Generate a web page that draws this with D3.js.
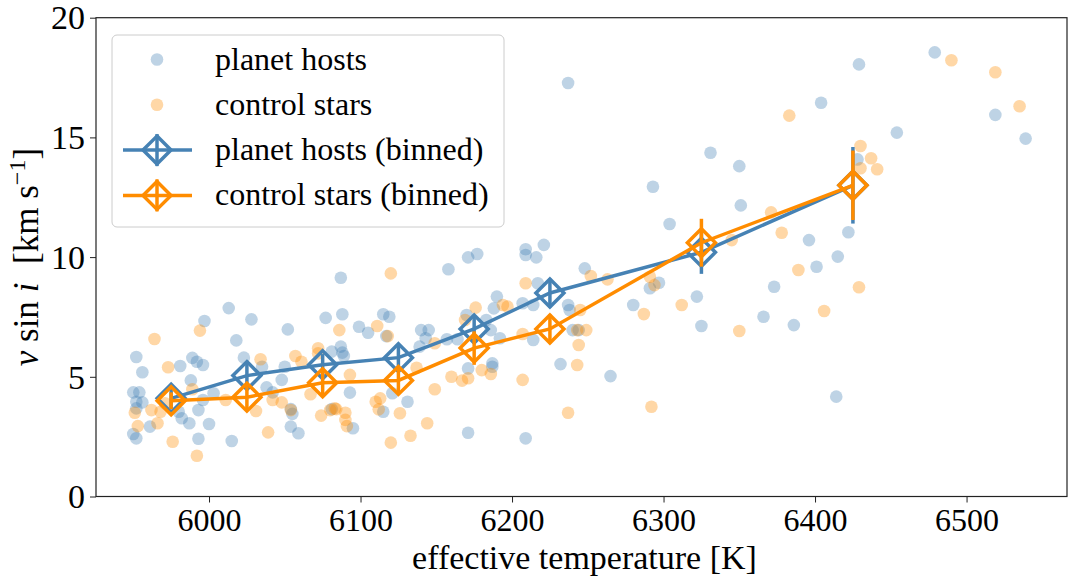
<!DOCTYPE html>
<html>
<head>
<meta charset="utf-8">
<script src="https://cdn.jsdelivr.net/npm/d3@7"></script>
<style>
  body { margin: 0; background: #fff; }
  svg text { font-family: "Liberation Serif", "Times New Roman", serif; fill: #000; }
</style>
</head>
<body>
<div id="chart"></div>
<script>
// individual stars: planet hosts
const hostTeff = [6013, 5997, 6028, 6018, 6052, 6077, 5952, 5956, 5981, 5989, 5992, 5996, 5988, 6023, 6035, 6050, 6048, 6038, 6042, 6081,
  5950, 5954, 5952, 5956, 5952, 6003, 5996, 5993, 5980, 5982, 5987, 6000, 5961, 5950, 5952, 5993, 6015, 6054, 6055, 6054,
  6059, 6081, 6087, 6158, 6171, 6177, 6209, 6209, 6216, 6221, 6088, 6115, 6119, 6099, 6105, 6117, 6140, 6145, 6143, 6087,
  6088, 6089, 6093, 6095, 6121, 6131, 6115, 6139, 6157, 6164, 6170, 6171, 6187, 6187, 6183, 6186, 6190, 6188, 6192, 6171,
  6209, 6207, 6214, 6217, 6214, 6232, 6237, 6238, 6240, 6244, 6248, 6331, 6350, 6293, 6351, 6304, 6428, 6422, 6396, 6401,
  6415, 6373, 6280, 6291, 6297, 6322, 6325, 6366, 6386, 6265, 6414, 6429, 6479, 6519, 6539, 6454, 6404, 6237];
const hostVsini = [7.87, 7.33, 7.40, 6.52, 6.98, 7.46, 5.83, 5.19, 5.45, 5.79, 5.63, 5.49, 4.85, 5.80, 5.42, 5.42, 4.87, 4.56, 4.35, 6.05,
  4.35, 4.35, 3.96, 3.93, 3.68, 4.31, 4.03, 3.61, 3.54, 3.27, 3.06, 3.03, 2.92, 2.61, 2.43, 2.41, 2.32, 3.65, 3.45, 2.92,
  2.64, 3.65, 9.14, 9.49, 9.99, 10.13, 10.33, 10.09, 9.99, 10.51, 7.61, 7.61, 7.51, 7.09, 6.84, 6.70, 6.95, 6.95, 6.61, 6.26,
  6.01, 5.87, 4.34, 2.85, 4.31, 3.96, 3.54, 6.26, 6.57, 6.57, 7.58, 5.35, 5.42, 5.56, 7.37, 6.95, 8.35, 7.86, 6.61, 2.66,
  2.43, 8.07, 8.00, 8.91, 6.54, 5.53, 8.00, 7.79, 6.95, 6.95, 9.53, 14.36, 13.80, 12.94, 12.16, 11.38, 14.08, 11.04, 10.71, 9.60,
  10.02, 8.76, 8.00, 8.70, 8.93, 8.35, 7.12, 7.51, 7.16, 5.03, 4.17, 18.05, 18.55, 15.94, 14.95, 15.20, 16.45, 17.27];

// individual stars: control sample
const ctrlTeff = [5964, 5994, 5973, 6034, 6057, 6061, 6072, 6072, 6086, 5951, 5953, 5962, 5966, 5968, 5989, 6011, 6031, 6042, 6048, 6054,
  6067, 6074, 6084, 6039, 5976, 5992, 5971, 6120, 6111, 6118, 6137, 6149, 6093, 6080, 6083, 6090, 6090, 6091, 6110, 6113,
  6112, 6126, 6120, 6133, 6144, 6149, 6160, 6167, 6171, 6180, 6186, 6176, 6169, 6194, 6197, 6209, 6207, 6207, 6237, 6244,
  6243, 6430, 6437, 6430, 6383, 6371, 6378, 6345, 6389, 6429, 6406, 6252, 6263, 6291, 6294, 6287, 6312, 6350, 6245, 6243,
  6249, 6292, 6490, 6519, 6535, 6441];
const ctrlVsini = [6.58, 6.93, 5.40, 5.73, 5.87, 5.63, 6.19, 5.98, 6.95, 3.50, 2.94, 3.61, 3.06, 3.54, 4.48, 4.03, 3.57, 4.03, 3.93, 3.61,
  4.27, 3.38, 3.65, 2.68, 2.29, 1.70, 3.89, 9.32, 7.12, 6.70, 5.38, 6.40, 5.08, 3.61, 3.68, 3.50, 3.20, 2.94, 3.96, 4.10,
  3.64, 3.48, 2.25, 2.54, 3.06, 4.48, 5.00, 4.84, 4.94, 5.28, 5.12, 7.89, 7.37, 8.00, 7.93, 8.91, 6.79, 4.87, 3.50, 6.33,
  5.49, 14.64, 14.13, 13.71, 15.91, 11.87, 11.02, 10.71, 9.46, 8.74, 7.75, 9.21, 9.07, 9.18, 8.83, 7.62, 8.00, 6.91, 7.79, 6.95,
  6.95, 3.75, 18.22, 17.72, 16.30, 13.67];

// binned means
const binTeff = [5975, 6025, 6075, 6125, 6175, 6225, 6325, 6425];
const hostBinV = [4.1, 5.05, 5.5, 5.8, 7.0, 8.5, 10.2, 13.0];
const hostBinErr = [0.45, 0.5, 0.45, 0.5, 0.55, 0.6, 0.9, 1.6];
const ctrlBinV = [4.0, 4.15, 4.75, 4.85, 6.2, 7.0, 10.6, 13.0];
const ctrlBinErr = [0.35, 0.5, 0.5, 0.55, 0.7, 0.6, 1.0, 1.45];

const xTicks = [6000, 6100, 6200, 6300, 6400, 6500];
const yTicks = [0, 5, 10, 15, 20];

const W = 1068, H = 576;
const blue = "#4682b4", orange = "#ff8c00";

const svg = d3.select("#chart").append("svg")
  .attr("width", W).attr("height", H);

const x = d3.scaleLinear().domain([5925.4, 6566.3]).range([96, 1067]);
const y = d3.scaleLinear().domain([0, 20]).range([496.5, 17.7]);

// scatter of single stars
const hosts = hostTeff.map((t, i) => ({ t, v: hostVsini[i] }));
const ctrls = ctrlTeff.map((t, i) => ({ t, v: ctrlVsini[i] }));

svg.append("g").selectAll("circle").data(hosts).enter().append("circle")
  .attr("cx", d => x(d.t)).attr("cy", d => y(d.v)).attr("r", 6.3)
  .attr("fill", blue).attr("fill-opacity", 0.35);

svg.append("g").selectAll("circle").data(ctrls).enter().append("circle")
  .attr("cx", d => x(d.t)).attr("cy", d => y(d.v)).attr("r", 6.3)
  .attr("fill", orange).attr("fill-opacity", 0.35);

// binned series with error bars and open diamonds
const diamond = s => `M0,${-s}L${s},0L0,${s}L${-s},0Z`;
function binned(vals, errs, color) {
  const pts = binTeff.map((t, i) => ({ t, v: vals[i], e: errs[i] }));
  const g = svg.append("g");
  g.append("path")
    .attr("d", d3.line().x(d => x(d.t)).y(d => y(d.v))(pts))
    .attr("fill", "none").attr("stroke", color).attr("stroke-width", 3.5);
  g.selectAll(".err").data(pts).enter().append("line")
    .attr("x1", d => x(d.t)).attr("x2", d => x(d.t))
    .attr("y1", d => y(d.v - d.e)).attr("y2", d => y(d.v + d.e))
    .attr("stroke", color).attr("stroke-width", 3.5);
  g.selectAll(".mk").data(pts).enter().append("path")
    .attr("transform", d => `translate(${x(d.t)},${y(d.v)})`)
    .attr("d", diamond(14))
    .attr("fill", "none").attr("stroke", color).attr("stroke-width", 3.5);
}
binned(hostBinV, hostBinErr, blue);
binned(ctrlBinV, ctrlBinErr, orange);

// axes
const xAxis = svg.append("g")
  .attr("transform", `translate(0,${y(0)})`)
  .call(d3.axisBottom(x).tickValues(xTicks).tickSize(6).tickSizeOuter(0).tickFormat(d3.format("d")));
xAxis.selectAll("text").attr("y", 34.5).attr("dy", null).style("font-size", "32px");

const yAxis = svg.append("g")
  .attr("transform", `translate(${x.range()[0]},0)`)
  .call(d3.axisLeft(y).tickValues(yTicks).tickSize(6).tickSizeOuter(0));
yAxis.selectAll("text").attr("x", -11).attr("dy", "0.33em").style("font-size", "34px");

svg.selectAll(".domain").remove();
svg.selectAll(".tick line").attr("stroke", "#222").attr("stroke-width", 1);
svg.append("rect")
  .attr("x", x.range()[0]).attr("y", y.range()[1])
  .attr("width", x.range()[1] - x.range()[0]).attr("height", y.range()[0] - y.range()[1])
  .attr("fill", "none").attr("stroke", "#222").attr("stroke-width", 1.2);

// axis labels
svg.append("text")
  .attr("x", (x.range()[0] + x.range()[1]) / 2 + 3).attr("y", 569)
  .attr("text-anchor", "middle").style("font-size", "34px")
  .text("effective temperature [K]");

const yl = svg.append("text")
  .attr("transform", `translate(38,${(y.range()[0] + y.range()[1]) / 2}) rotate(-90)`)
  .attr("text-anchor", "middle").style("font-size", "35px");
yl.append("tspan").style("font-style", "italic").text("v");
yl.append("tspan").text(" sin ");
yl.append("tspan").style("font-style", "italic").text("i");
yl.append("tspan").attr("dx", 10).text(" [km s");
yl.append("tspan").attr("dy", -13).style("font-size", "24px").text("−1");
yl.append("tspan").attr("dy", 13).text("]");

// legend
const leg = svg.append("g");
leg.append("rect")
  .attr("x", 112).attr("y", 35).attr("width", 392).attr("height", 192).attr("rx", 5)
  .attr("fill", "#fff").attr("fill-opacity", 0.8).attr("stroke", "#ccc").attr("stroke-width", 1);
const legItems = [
  { label: "planet hosts", color: blue, kind: "dot" },
  { label: "control stars", color: orange, kind: "dot" },
  { label: "planet hosts (binned)", color: blue, kind: "line" },
  { label: "control stars (binned)", color: orange, kind: "line" }
];
legItems.forEach((it, i) => {
  const cy = 59.5 + i * 45.3;
  if (it.kind === "dot") {
    leg.append("circle").attr("cx", 157).attr("cy", cy).attr("r", 6.3)
      .attr("fill", it.color).attr("fill-opacity", 0.35);
  } else {
    leg.append("line").attr("x1", 123).attr("x2", 192).attr("y1", cy).attr("y2", cy)
      .attr("stroke", it.color).attr("stroke-width", 3.5);
    leg.append("line").attr("x1", 157).attr("x2", 157).attr("y1", cy - 16).attr("y2", cy + 16)
      .attr("stroke", it.color).attr("stroke-width", 3.5);
    leg.append("path").attr("transform", `translate(157,${cy})`).attr("d", diamond(14))
      .attr("fill", "none").attr("stroke", it.color).attr("stroke-width", 3.5);
  }
  leg.append("text").attr("x", 215).attr("y", cy + 10).style("font-size", "32px").text(it.label);
});
</script>
</body>
</html>
